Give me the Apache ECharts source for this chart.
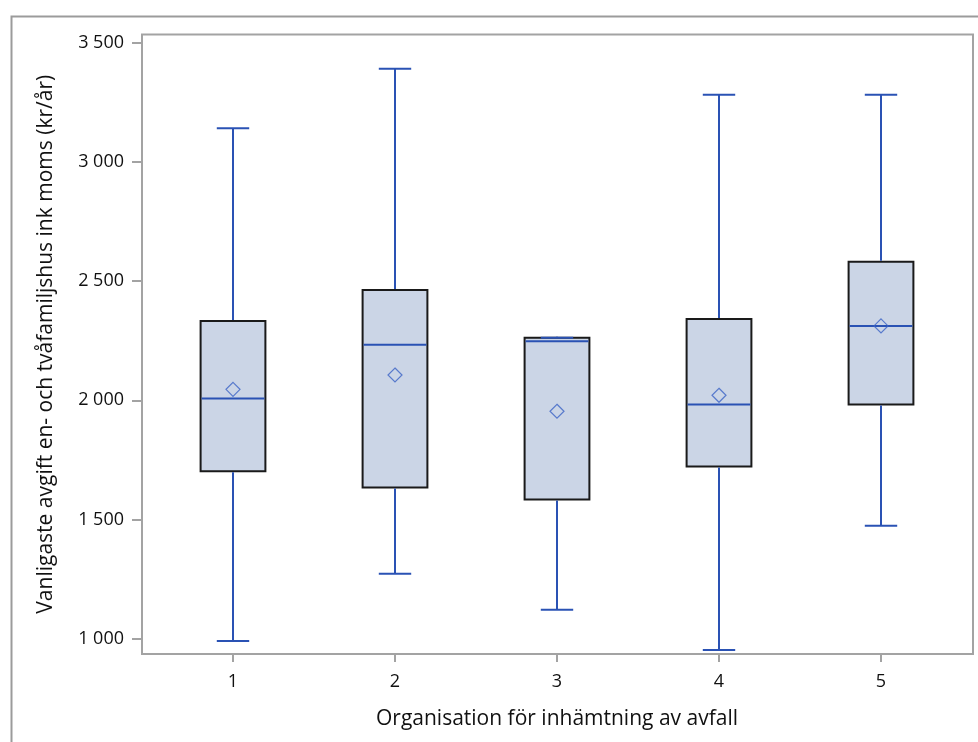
<!DOCTYPE html>
<html><head><meta charset="utf-8">
<script src="https://cdn.jsdelivr.net/npm/echarts@6/dist/echarts.min.js"></script>
<style>html,body{margin:0;padding:0;background:#fff}#c{width:978px;height:742px}</style>
</head><body><div id="c"></div>
<script>
const categories  = ['1', '2', '3', '4', '5'];
const whiskerLow  = [990, 1273, 1122, 953, 1474];
const q1          = [1702, 1634, 1584, 1722, 1982];
const median      = [2007, 2233, 2248, 1982, 2312];
const q3          = [2332, 2462, 2262, 2341, 2581];
const whiskerHigh = [3141, 3390, 2262, 3281, 3281];
const mean        = [2046, 2106, 1954, 2021, 2312];
const yTicks      = [1000, 1500, 2000, 2500, 3000, 3500];
const xTitle = 'Organisation för inhämtning av avfall';
const yTitle = 'Vanligaste avgift en- och tvåfamiljshus ink moms (kr/år)';

const FONT = 'Open Sans';
const BLUE = '#2a52b4';
const YMIN = 936, YMAX = 3534;

const boxData = categories.map((c, i) => [i, whiskerLow[i], q1[i], median[i], q3[i], whiskerHigh[i]]);
const meanData = categories.map((c, i) => [i, mean[i]]);
const fmt = v => String(v).replace(/\B(?=(\d{3})+(?!\d))/g, ' ');

const chart = echarts.init(document.getElementById('c'), null, {renderer: 'canvas'});
chart.setOption({
  animation: false,
  backgroundColor: '#fff',
  textStyle: {fontFamily: FONT},
  graphic: [{
    type: 'rect', left: 9, top: 14, silent: true, z: -10,
    shape: {width: 1000, height: 800},
    style: {fill: 'none', stroke: '#9b9b9b', lineWidth: 2}
  }],
  grid: [
    {left: 142, top: 34.5, right: 5, bottom: 88, show: true, borderColor: '#a3a3a3', borderWidth: 2, backgroundColor: 'transparent'},
    {left: 152, top: 34.5, right: 16, bottom: 88}
  ],
  xAxis: [
    {gridIndex: 0, type: 'value', min: 0, max: 1, show: false},
    {gridIndex: 1, type: 'category', data: categories, boundaryGap: true,
     axisLine: {show: false},
     axisTick: {show: true, alignWithLabel: true, length: 8, lineStyle: {color: '#a3a3a3', width: 2}},
     axisLabel: {fontSize: 18, color: '#111', margin: 19, fontFamily: FONT},
     name: xTitle, nameLocation: 'middle', nameGap: 55,
     nameTextStyle: {fontSize: 21, color: '#111', fontFamily: FONT}},
  ],
  yAxis: [
    {gridIndex: 0, type: 'value', min: YMIN, max: YMAX,
     axisLine: {show: false}, splitLine: {show: false},
     axisTick: {show: true, length: 10, customValues: yTicks, lineStyle: {color: '#a3a3a3', width: 2}},
     axisLabel: {fontSize: 18, color: '#111', margin: 18, customValues: yTicks, formatter: fmt, fontFamily: FONT},
     name: yTitle, nameLocation: 'middle', nameGap: 85,
     nameTextStyle: {fontSize: 21, color: '#111', fontFamily: FONT}},
    {gridIndex: 1, type: 'value', min: YMIN, max: YMAX, show: false, splitLine: {show: false}}
  ],
  series: [
    {
      type: 'custom', xAxisIndex: 1, yAxisIndex: 1,
      encode: {x: 0, y: [1, 2, 3, 4, 5]},
      data: boxData,
      renderItem: function (params, api) {
        const x = api.value(0);
        const lo = api.coord([x, api.value(1)]);
        const b1 = api.coord([x, api.value(2)]);
        const md = api.coord([x, api.value(3)]);
        const b3 = api.coord([x, api.value(4)]);
        const hi = api.coord([x, api.value(5)]);
        const bw = api.size([1, 0])[0];
        const hw = bw * 0.2, cw = bw * 0.1, cx = md[0];
        const ls = {stroke: BLUE, lineWidth: 2};
        return {type: 'group', children: [
          {type: 'rect', shape: {x: cx - hw, y: b3[1], width: 2 * hw, height: b1[1] - b3[1]},
           style: {fill: '#cbd5e6', stroke: '#1a1a1a', lineWidth: 2}},
          {type: 'line', shape: {x1: cx - hw + 1, y1: md[1], x2: cx + hw - 1, y2: md[1]}, style: ls},
          {type: 'line', shape: {x1: cx, y1: b3[1] - 1, x2: cx, y2: hi[1]}, style: ls},
          {type: 'line', shape: {x1: cx, y1: b1[1] + 1, x2: cx, y2: lo[1]}, style: ls},
          {type: 'line', shape: {x1: cx - cw, y1: hi[1], x2: cx + cw, y2: hi[1]}, style: ls},
          {type: 'line', shape: {x1: cx - cw, y1: lo[1], x2: cx + cw, y2: lo[1]}, style: ls}
        ]};
      },
      z: 2
    },
    {
      type: 'scatter', xAxisIndex: 1, yAxisIndex: 1,
      data: meanData, symbol: 'diamond', symbolSize: 14,
      itemStyle: {color: 'rgba(0,0,0,0)', borderColor: '#3b63c6', borderWidth: 1.2},
      z: 3
    }
  ]
});
</script>
</body></html>
